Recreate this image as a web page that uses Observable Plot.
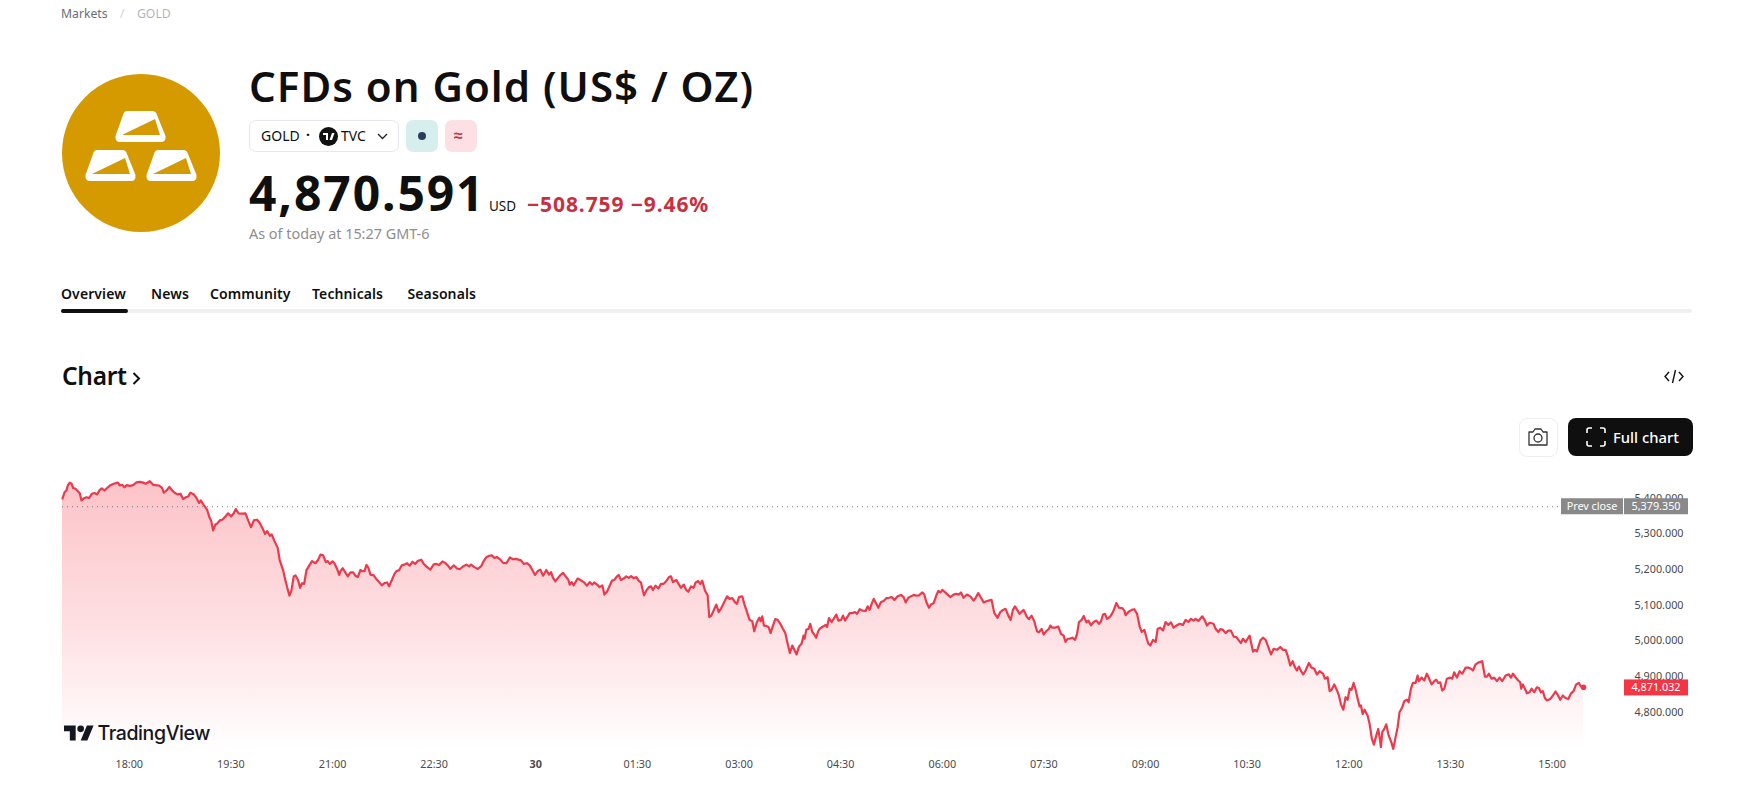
<!DOCTYPE html>
<html><head><meta charset="utf-8">
<script src="https://cdn.jsdelivr.net/npm/d3@7"></script>
<script src="https://cdn.jsdelivr.net/npm/@observablehq/plot@0.6"></script>
<style>
html,body{margin:0;padding:0;background:#fff;width:1747px;height:792px;overflow:hidden;font-family:"Noto Sans",sans-serif;color:#0f0f0f}
.a{position:absolute;white-space:nowrap;line-height:1}
.mid{transform:translateY(-50%)}
#chart{position:absolute;left:0;top:400px}
#chart svg{display:block}
.tab{font-size:14px;font-weight:600;letter-spacing:.1px;top:294px}
</style></head><body>
<div class="a mid" style="left:61px;top:13.5px;font-size:12.2px;color:#6a6d78">Markets</div>
<div class="a mid" style="left:120px;top:13.5px;font-size:12.2px;color:#d1d4dc">/</div>
<div class="a mid" style="left:137px;top:13.5px;font-size:12.2px;color:#b2b5be">GOLD</div>

<svg class="a" style="left:61.5px;top:74px" width="158" height="158" viewBox="0 0 158 158">
<ellipse cx="79" cy="79" rx="79" ry="79" fill="#d59a00"/>
<defs><g id="bar"><path d="M12 0H37Q41 0 42 4L50.500 25Q51 31 46 31H5Q0 31 .5 25L8 4Q9 0 12 0Z" fill="#fff"/><path d="M7 24L40 8L45 24Z" fill="#d59a00"/></g></defs>
<use href="#bar" x="53" y="37"/><use href="#bar" x="23" y="76"/><use href="#bar" x="84" y="76"/>
</svg>

<div class="a mid" id="title" style="left:249px;top:86px;font-size:42px;font-weight:600;letter-spacing:1px">CFDs on Gold (US$ / OZ)</div>

<div class="a" style="left:249px;top:120px;width:148px;height:30px;border:1px solid #e6e8ee;border-radius:7px"></div>
<div class="a mid" style="left:261px;top:136px;font-size:14px">GOLD</div>
<div class="a mid" style="left:306px;top:135px;font-size:14px;font-weight:700">·</div>
<svg class="a" style="left:319px;top:127px" width="19" height="19" viewBox="0 0 19 19"><circle cx="9.500" cy="9.500" r="9.500" fill="#111"/><path d="M9 13H7V8H4V6H9ZM13 13H10.500L13 6H15.500Z" fill="#fff"/></svg>
<div class="a mid" style="left:341px;top:136px;font-size:14px">TVC</div>
<svg class="a" style="left:377px;top:132px" width="11" height="8" viewBox="0 0 11 8"><path d="M1 2L5.500 6.500L10 2" fill="none" stroke="#222" stroke-width="1.300"/></svg>
<div class="a" style="left:406px;top:120px;width:32px;height:32px;background:#d7eeee;border-radius:7px"></div>
<svg class="a" style="left:417px;top:131px" width="10" height="10"><circle cx="5" cy="5" r="4" fill="#2a3f5f"/></svg>
<div class="a" style="left:445px;top:120px;width:32px;height:32px;background:#fde0e4;border-radius:7px"></div>
<div class="a mid" style="left:454px;top:135px;font-size:16px;color:#c9303f;font-weight:700">≈</div>

<div class="a mid" id="price" style="left:249px;top:193px;font-size:48px;font-weight:700;letter-spacing:1.900px">4,870.591</div>
<div class="a mid" style="left:489px;top:207px;font-size:13.500px">USD</div>
<div class="a mid" id="chg" style="left:527px;top:204px;font-size:21px;font-weight:700;letter-spacing:.9px;color:#c9303f">−508.759 −9.46%</div>
<div class="a mid" id="asof" style="left:249px;top:234px;font-size:14.400px;color:#8e8e8e">As of today at 15:27 GMT-6</div>

<div class="a mid tab" style="left:61px">Overview</div>
<div class="a mid tab" style="left:151px">News</div>
<div class="a mid tab" style="left:210px">Community</div>
<div class="a mid tab" style="left:312px">Technicals</div>
<div class="a mid tab" style="left:407.500px">Seasonals</div>
<div class="a" style="left:61px;top:309px;width:1631px;height:4px;background:#f0f0f0;border-radius:2px"></div>
<div class="a" style="left:61px;top:309px;width:67px;height:4px;background:#0f0f0f;border-radius:2px"></div>

<div class="a mid" style="left:62px;top:376px;font-size:24.500px;font-weight:600;letter-spacing:-.3px">Chart</div>
<svg class="a" style="left:131px;top:371px" width="11" height="14" viewBox="0 0 11 14"><path d="M2.500 2L8 7.500L2.500 13" fill="none" stroke="#111" stroke-width="2"/></svg>
<svg class="a" style="left:1664px;top:368px" width="20" height="17" viewBox="0 0 20 17"><path d="M5 4L1 8.500L5 13M15 4L19 8.500L15 13M11.500 2L8.500 15" fill="none" stroke="#111" stroke-width="1.400"/></svg>

<div class="a" style="left:1519px;top:418px;width:37px;height:37px;border:1px solid #eeeeee;border-radius:8px"></div>
<svg class="a" style="left:1527px;top:427px" width="22" height="20" viewBox="0 0 22 20"><path d="M2 5H6L8 2H14L16 5H20V18H2Z" fill="none" stroke="#333" stroke-width="1.300" stroke-linejoin="round"/><circle cx="11" cy="11" r="4" fill="none" stroke="#333" stroke-width="1.300"/></svg>
<div class="a" style="left:1568px;top:418px;width:125px;height:38px;background:#0f0f0f;border-radius:8px"></div>
<svg class="a" style="left:1585px;top:427px" width="22" height="20" viewBox="0 0 22 20" fill="none" stroke="#fff" stroke-width="1.600"><path d="M2 6V3Q2 1 4 1H7M15 1H18Q20 1 20 3V6M20 14V17Q20 19 18 19H15M7 19H4Q2 19 2 17V14"/></svg>
<div class="a mid" style="left:1613px;top:437px;font-size:14.800px;color:#fff;font-weight:500">Full chart</div>

<div id="chart"></div>

<svg class="a" style="left:64px;top:725px" width="30" height="16" viewBox="0 3.500 36 19"><path d="M14 22H7V11H0V4h14v18zM28 22h-8l7.500-18h8L28 22z" fill="#131722"/><circle cx="20" cy="8" r="4" fill="#131722"/></svg>
<div class="a mid" style="left:97.500px;top:733.500px;font-size:19.500px;font-weight:500;color:#131722;font-family:Inter,sans-serif;letter-spacing:-.4px">TradingView</div>

<script>
const minutes = [0,1.8,3.5,4.7,6.5,8,9.4,11.5,13.6,15.3,16.8,18.9,21.3,23.6,26,28.3,30.7,33,34.8,37.2,39.5,42.5,45.4,49,50.8,52.8,54.9,56.7,59.6,62.6,65.5,68.5,71.4,73.8,77.3,80.3,85.3,88.2,89.7,92.1,94.7,97.1,100,102.1,104.5,106.8,109.2,111.3,113.3,116.3,118.6,121,122.5,125.1,128.1,130.1,131.6,133.4,135.5,136.9,139.3,141.6,144.3,146.7,149.3,151.7,153.5,155.8,159.3,162,164.7,167,169.4,172.3,174.7,177,179.4,181.2,183.6,185.3,187.7,190.6,192.4,195.4,197.1,198.9,201,202.7,204.8,206.3,208.6,210.4,212.2,214,216,218.1,221,224,226.3,
228.5,230.8,233.2,234.9,236.7,239.1,240.8,243.2,245,246.2,248.2,250.3,252.7,255,257.4,259.7,261.5,263.9,265.3,267.4,269.2,270.9,272.7,275.7,278,280.4,282.8,285.1,287.5,289.2,291.6,294,295.7,298.1,300.5,302.8,305.2,307.5,309.9,312.3,314.6,317.6,319.9,322.9,325.8,328.8,331.1,333.5,336.5,338.8,341.2,343.5,346.5,349.4,351.8,354.8,357.7,360.1,361.8,364.8,367.7,370.7,373,375.4,377.8,380.1,382.5,384.9,387.8,390.2,393.1,396.1,399,401.4,403.7,406.1,408.5,411.4,413.8,416.1,418.5,420.9,423.2,425.6,428.5,430.9,432.7,434.4,436.5,439.4,441.5,443.3,445.6,448,
449.2,450.9,452.7,454.5,456.2,458.6,461.6,464.5,466.9,469.2,471,473.4,475.7,478.1,479.9,482.2,484.6,486.6,488.7,490.5,492.5,494.6,497,499.3,501.4,503.5,505.8,508.2,510.5,512.3,513.8,515,517,519.4,521.2,522.9,525.3,527.7,530,532.4,534.7,537.1,538.9,540.6,543.6,546,547.7,550.1,552.4,554.2,556.6,558.9,560.7,563,564.8,566.6,569,571.3,572.8,574.6,576.6,579,581.1,583.1,586.1,588.5,590.8,593.2,595.5,597.3,599.1,602,603.8,606.2,608.5,610.9,612.6,615,617.1,618.3,619.7,621.2,623.3,625.3,627.1,629.2,631.2,633.3,635.7,638,640.1,642.2,644.2,646.3,648.1,650.1,652.2,654.5,656.3,657.2,658.7,660.7,662.2,664,665.8,667.5,669,670.5,
672.9,675.9,677.1,678.8,681.2,683.5,685.3,687.1,689.5,691.2,693,695.4,697.1,699.5,701.8,703.6,706,708.3,711.3,713,714.8,716.6,718.4,720.4,722.5,724.9,727.2,729.6,732,734.3,736.7,739.6,742.6,744.9,746.7,749.1,751.4,753.8,756.1,758.5,761.5,763.2,765,767.4,769.1,771.5,773.8,775.6,777.4,779.2,781.5,783.9,786.2,789.2,791.6,793.9,795.7,798,801,804,806.9,808.7,811,813.4,815.8,818.7,822.8,825.2,828.1,830.5,832.9,835.2,837.6,839.7,841.7,843.5,845.9,847.6,851.2,854.1,855.9,858.2,860.6,863,864.7,867.1,868.9,871.2,873.6,874.8,876.5,878.9,881.9,884.2,886.6,888.3,890.1,891.9,
894.3,896.7,898.5,900.2,902.6,904.4,906.7,908.5,910.8,913.2,915.6,917.9,919.7,921.5,923.2,925,928,930.3,933.3,935.6,938.6,940.4,941.5,943.9,946.9,949.2,951.6,953.9,955.7,958.1,959.8,961.6,963.4,965.7,968.1,969.9,972.2,974.6,976.9,979.3,981.7,984,987,989.3,992.3,994.7,997,999.4,1001.7,1003.5,1005.9,1009.4,1011.8,1013.5,1015.9,1019.4,1021.2,1023.6,1025.3,1027.7,1030,1032.4,1034.8,1037.2,1039.5,1041.9,1043.6,1045.4,1047.8,1051.3,1054.3,1056,1057.8,1060.8,1063.1,1065.5,1067.8,1070.2,1072.6,1075.5,1078.5,1080.8,1083.2,1085,1087.3,1089.4,1091.2,1093.2,1095,1096.8,1098.8,1100.9,1103.8,1106.2,1108.6,1110.9,1113.3,
1116.3,1118,1120.4,1122.2,1123.9,1126.3,1128.7,1130.4,1132.2,1134.3,1136.3,1138.1,1139.9,1141.6,1143.4,1145.2,1147,1148.7,1149.9,1151.4,1153.1,1155.8,1157.6,1159.6,1161.4,1163.5,1165.2,1166.4,1167.6,1168.8,1170.6,1172.3,1174.4,1176.8,1178.5,1180.6,1182.4,1184.1,1186.5,1188.3,1190.6,1192.1,1194.2,1195.9,1198.3,1200.1,1201.2,1203.6,1206,1208.3,1210.7,1212.5,1214.8,1216.6,1218.4,1220.1,1221.9,1223.7,1226,1229,1230.8,1232.5,1234.9,1237.3,1239.6,1242.6,1244.9,1247.3,1249.1,1251.4,1254.4,1257.3,1259.7,1261.5,1263.2,1265.6,1267.9,1270.3,1272.7,1275,1278,1280.9,1282.7,1284.5,1286.8,1289.2,1291,1291.8,1293.3,1295.1,1296.9,1299.2,1301,1303.4,1305.7,1307.5,1309.3,1311,1312.8,1314.6,1317.5,1319.3,1322.2,1324,1326.4,1328.7,1331.1,1333.5,1335.8,1338.2,1340.5,1342.9,1344.7,1347];

const prices = [5400,5418,5423,5437,5445,5442,5430,5428,5421,5415,5395,5401,5404,5402,5414,5416,5412,5425,5429,5423,5430,5438,5442,5445,5437,5439,5432,5438,5436,5438,5446,5447,5445,5442,5449,5439,5437,5430,5417,5423,5433,5423,5415,5412,5414,5399,5404,5406,5417,5412,5402,5388,5395,5382,5369,5348,5339,5311,5328,5330,5339,5341,5350,5359,5350,5359,5371,5359,5358,5359,5337,5320,5339,5341,5332,5318,5301,5309,5296,5300,5281,5262,5227,5199,5175,5152,5128,5142,5182,5185,5172,5150,5163,5161,5199,5210,5225,5219,5228,
5243,5241,5222,5225,5217,5224,5219,5203,5186,5197,5205,5194,5182,5193,5193,5183,5180,5200,5197,5197,5214,5206,5187,5185,5174,5166,5157,5163,5165,5154,5171,5189,5197,5199,5213,5215,5219,5212,5223,5217,5225,5229,5217,5208,5201,5216,5217,5214,5224,5220,5213,5203,5213,5204,5202,5210,5215,5210,5215,5208,5203,5210,5225,5236,5240,5241,5234,5236,5229,5220,5219,5235,5230,5231,5229,5227,5217,5219,5213,5200,5186,5197,5201,5184,5200,5187,5194,5178,5168,5180,5187,5192,5182,5172,
5159,5166,5157,5167,5176,5172,5166,5156,5166,5159,5165,5159,5152,5157,5131,5139,5156,5170,5172,5180,5186,5172,5176,5182,5178,5183,5177,5180,5169,5165,5144,5129,5142,5152,5154,5144,5156,5148,5161,5161,5169,5180,5182,5166,5172,5159,5150,5159,5144,5139,5154,5150,5165,5169,5161,5170,5142,5129,5068,5072,5086,5103,5082,5091,5110,5126,5119,5121,5110,5105,5124,5126,5105,5082,5060,5056,5028,5054,5066,5056,5070,5044,5043,5040,5023,5044,5062,5060,5049,5035,5023,4993,4967,4988,4976,4963,4985,4993,5016,5007,5032,5035,5049,5026,5019,5010,5026,5035,
5040,5046,5040,5065,5054,5066,5075,5058,5060,5072,5058,5070,5079,5079,5082,5077,5090,5086,5085,5098,5088,5105,5119,5107,5094,5110,5113,5121,5122,5124,5116,5126,5130,5124,5109,5122,5126,5130,5128,5129,5137,5131,5110,5094,5103,5107,5128,5141,5137,5144,5138,5131,5124,5131,5133,5131,5137,5122,5131,5126,5114,5122,5135,5122,5109,5113,5116,5079,5066,5082,5088,5091,5072,5060,5088,5098,5086,5077,5088,5068,5062,5072,5056,5028,5025,5035,5019,5028,5035,5044,5038,5038,5041,5021,5016,4998,5007,5007,
5010,5004,5021,5054,5060,5071,5053,5058,5045,5054,5058,5049,5056,5075,5077,5063,5070,5082,5107,5094,5093,5086,5073,5082,5088,5090,5077,5042,5026,5032,5012,4993,4988,5004,4998,5035,5038,5030,5054,5046,5053,5038,5045,5049,5046,5060,5054,5063,5058,5063,5057,5070,5058,5044,5052,5049,5035,5026,5034,5032,5023,5030,5030,5013,5012,5002,4995,5007,4998,5016,4971,4976,4972,5002,5010,5004,4984,4963,4979,4976,4984,4976,4976,4960,4932,4944,4929,4918,4929,4916,4907,4918,4939,4926,4923,4907,4916,
4909,4895,4899,4860,4864,4879,4862,4848,4823,4808,4843,4836,4867,4864,4883,4864,4839,4817,4820,4796,4808,4792,4768,4726,4710,4736,4754,4731,4703,4745,4754,4767,4736,4717,4698,4731,4759,4801,4815,4832,4836,4829,4867,4883,4883,4904,4888,4898,4890,4909,4892,4879,4888,4892,4883,4885,4862,4867,4895,4898,4895,4913,4898,4916,4909,4926,4926,4923,4918,4935,4941,4944,4901,4901,4909,4895,4898,4888,4898,4888,4904,4907,4898,4909,4899,4890,4885,4867,4879,4867,4854,4857,4867,4857,4871,4869,4857,4860,4841,4834,4838,4845,4859,4851,4836,4848,4841,4838,4853,4860,4879,4883,4873,4871.032];

const timeTicks = [60,150,240,330,510,600,690,780,870,960,1050,1140,1230,1320];
const timeLabels = ["18:00","19:30","21:00","22:30","01:30","03:00","04:30","06:00","07:30","09:00","10:30","12:00","13:30","15:00"];
const dayTick = [420];
const dayLabel = ["30"];
const priceTicks = [4800,4900,5000,5100,5200,5300,5400];
const prevClose = 5379.35;
const lastPrice = 4871.032;
const areaFloor = 4693;

const points = minutes.map((t,i)=>({t,p:prices[i]}));
const fmt = d3.format(",.3f");
const red = "#f23645";

const gradient = () => {
  const d = d3.create("svg:defs");
  const g = d.append("linearGradient").attr("id","goldFade").attr("x1",0).attr("y1",0).attr("x2",0).attr("y2",1);
  g.append("stop").attr("offset","0%").attr("stop-color","#fcc3c8");
  g.append("stop").attr("offset","55%").attr("stop-color","#fee0e3");
  g.append("stop").attr("offset","100%").attr("stop-color","#ffffff");
  return d.node();
};

const badge = (scales, g, value, x, w, fill, text) => {
  const y = scales.y(value) + 0.7;
  g.append("rect").attr("x",x).attr("y",y-8).attr("width",w).attr("height",16).attr("fill",fill);
  g.append("text").attr("x",x+w/2).attr("y",y).attr("dy","0.35em").attr("text-anchor","middle")
    .attr("fill","#fff").attr("font-size",10.8).text(text);
};
const badges = (index, scales) => {
  const g = d3.create("svg:g");
  badge(scales, g, prevClose, 1561, 62, "#898989", "Prev close");
  badge(scales, g, prevClose, 1624, 64, "#898989", fmt(prevClose));
  badge(scales, g, lastPrice, 1624, 64, red, fmt(lastPrice));
  return g.node();
};

const plot = Plot.plot({
  width: 1747, height: 392,
  marginLeft: 62, marginRight: 164, marginTop: 76.8, marginBottom: 41.8,
  style: {fontFamily: '"Noto Sans",sans-serif', fontSize: "10.8px", background: "transparent", color: "#4a4a4a", overflow: "visible"},
  x: {domain: [0, 1347]},
  y: {domain: [areaFloor, 5460]},
  marks: [
    gradient,
    Plot.areaY(points, {x:"t", y1: areaFloor, y2:"p", fill:"url(#goldFade)"}),
    Plot.ruleY([prevClose], {stroke:"#787b86", strokeWidth:1, strokeDasharray:"1,4", dy:0.7}),
    Plot.lineY(points, {x:"t", y:"p", stroke:"#ec3a4c", strokeWidth:2.2}),
    Plot.dot([points[points.length-1]], {x:"t", y:"p", r:2.8, fill:red}),
    Plot.axisX({ticks: timeTicks, tickSize:0, tickPadding:9.5, dx:-1, label:null, tickFormat:(d)=>timeLabels[timeTicks.indexOf(d)]}),
    Plot.axisX({ticks: dayTick, tickSize:0, tickPadding:9.5, dx:-1, label:null, fontWeight:700, tickFormat:(d)=>dayLabel[dayTick.indexOf(d)]}),
    Plot.axisY({anchor:"right", ticks: priceTicks, tickSize:0, tickPadding:51, dy:-0.5, label:null, tickFormat:fmt}),
    badges
  ]
});
document.getElementById("chart").append(plot);
</script>
</body></html>
